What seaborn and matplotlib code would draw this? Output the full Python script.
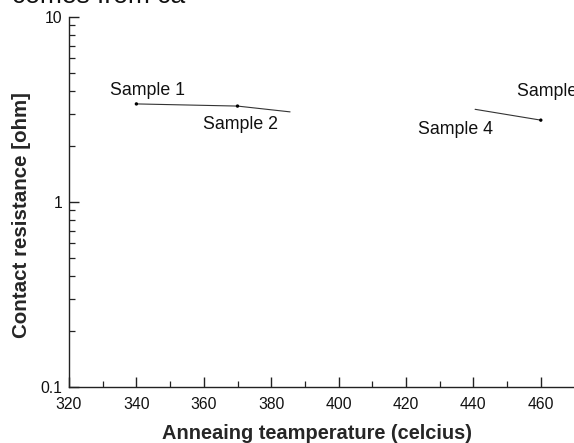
import matplotlib
matplotlib.use("Agg")
import matplotlib.pyplot as plt
import matplotlib.ticker as mticker
import numpy as np
import pandas as pd
import seaborn as sns

# Annealing temperatures and measured contact resistance
temps = [340, 370, 460]
resist = [3.39, 3.30, 2.77]

# Visible trend segments between samples
seg1_t = [340, 370, 385.6]
seg1_r = [3.39, 3.30, 3.07]
seg2_t = [440.5, 460]
seg2_r = [3.17, 2.77]

# Annotation positions (temperature, resistance) for sample names
annot_names = ["Sample 1", "Sample 2", "Sample 4", "Sample 5"]
annot_t = [332.2, 359.7, 423.6, 452.9]
annot_r = [4.03, 2.63, 2.48, 3.95]

x_ticks = [320, 340, 360, 380, 400, 420, 440, 460]
y_ticks = [0.1, 1, 10]
y_ticklabels = ["0.1", "1", "10"]

sns.set_theme(style="white")
plt.rcParams["font.family"] = ["Liberation Sans", "DejaVu Sans"]

fig = plt.figure(figsize=(5.74, 4.43), dpi=100)
ax = fig.add_axes([69 / 574, 1 - 387 / 443, 1 - 69 / 574, (387 - 17) / 443])

df1 = pd.DataFrame({"t": seg1_t, "r": seg1_r})
df2 = pd.DataFrame({"t": seg2_t, "r": seg2_r})
pts = pd.DataFrame({"t": temps, "r": resist})

sns.lineplot(data=df1, x="t", y="r", ax=ax, color="#333333", lw=0.8, sort=False)
sns.lineplot(data=df2, x="t", y="r", ax=ax, color="#333333", lw=0.8, sort=False)
sns.scatterplot(data=pts, x="t", y="r", ax=ax, color="black", s=6, edgecolor="none", zorder=3)

for name, t, r in zip(annot_names, annot_t, annot_r):
    ax.text(t, r, name, fontsize=12.8, color="#111111", va="center", ha="left", clip_on=False)

ax.set_yscale("log")
ax.set_xlim(320, 320 + 505 / 3.37)
ax.set_ylim(0.1, 10)
ax.set_xticks(x_ticks)
ax.set_xticklabels([str(v) for v in x_ticks])
ax.xaxis.set_minor_locator(mticker.MultipleLocator(10))
ax.set_yticks(y_ticks)
ax.set_yticklabels(y_ticklabels)
ax.yaxis.set_minor_locator(mticker.LogLocator(base=10, subs=np.arange(2, 10)))
ax.yaxis.set_minor_formatter(mticker.NullFormatter())

ax.tick_params(axis="both", which="major", direction="in", length=7, width=1.0,
               colors="#222222", labelsize=11.3, labelcolor="#111111")
ax.tick_params(axis="x", which="major", pad=7)
ax.tick_params(axis="y", which="major", pad=5)
ax.tick_params(axis="both", which="minor", direction="in", length=4, width=0.9,
               colors="#222222")
ax.tick_params(axis="x", which="both", bottom=True, top=False)
ax.tick_params(axis="y", which="both", left=True, right=False)

for side in ["top", "right"]:
    ax.spines[side].set_visible(False)
for side in ["left", "bottom"]:
    ax.spines[side].set_color("#222222")
    ax.spines[side].set_linewidth(1.0)

ax.set_xlabel("Anneaing teamperature (celcius)", fontsize=14.4, fontweight="bold")
ax.set_ylabel("Contact resistance [ohm]", fontsize=14.8, fontweight="bold")
ax.xaxis.set_label_coords((317 - 69) / 505, -(424 - 387) / 370)
ax.yaxis.set_label_coords(-(69 - 31) / 505, (387 - 215) / 370)
ax.set_facecolor("white")

fig.text(12 / 574, 1 - 3 / 443, "comes from ca", fontsize=19, color="#111111",
         ha="left", va="baseline")

fig.savefig("out.png", dpi=100, facecolor="white")
